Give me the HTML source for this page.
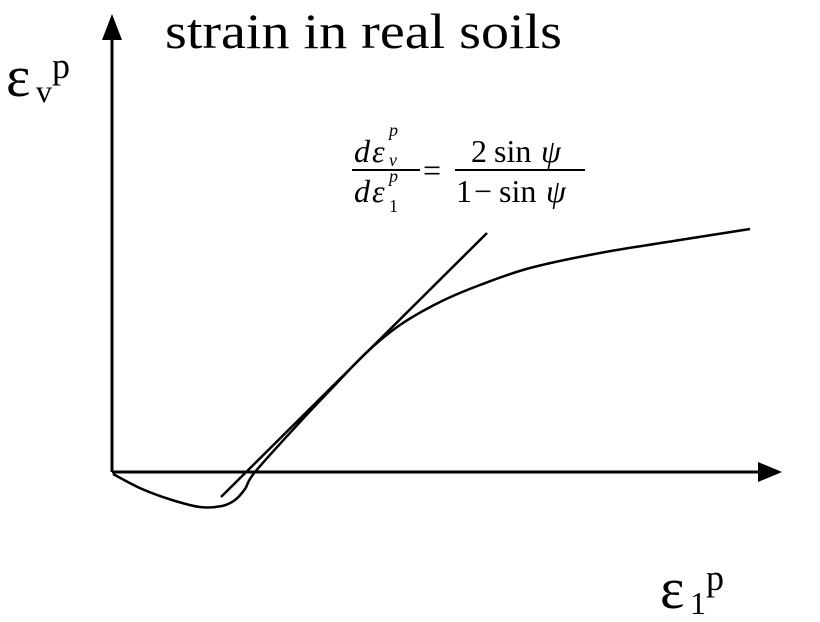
<!DOCTYPE html>
<html><head><meta charset="utf-8"><style>
body{margin:0;background:#fff;}
svg{display:block;font-family:"Liberation Serif",serif;}
</style></head><body>
<svg width="820" height="622" viewBox="0 0 820 622">
<text x="165" y="48" font-size="50" textLength="397" lengthAdjust="spacingAndGlyphs">strain in real soils</text>
<g><text x="6" y="96" font-size="58">ε</text><text x="36" y="102" font-size="32">v</text><text x="52" y="78" font-size="36">p</text></g>
<g><text x="660" y="608" font-size="58">ε</text><text x="690" y="614" font-size="32">1</text><text x="706" y="590" font-size="36">p</text></g>
<line x1="112" y1="472" x2="112" y2="38" stroke="#000" stroke-width="3"/>
<polygon points="112,14 102,40 122,40" fill="#000"/>
<line x1="112" y1="472" x2="760" y2="472" stroke="#000" stroke-width="3"/>
<polygon points="782,472 758,462 758,482" fill="#000"/>
<g font-style="italic" font-size="32">
<text x="354" y="162">d</text><text x="372" y="162">ε</text><text x="389" y="166" font-size="18">v</text><text x="389" y="136" font-size="18">p</text>
<line x1="352" y1="170" x2="420" y2="170" stroke="#000" stroke-width="2"/>
<text x="354" y="202">d</text><text x="372" y="202">ε</text><text x="389" y="212" font-size="18" font-style="normal">1</text><text x="389" y="182" font-size="18">p</text>
<text x="423" y="181" font-style="normal">=</text>
<text x="471" y="162" font-style="normal">2</text><text x="494" y="162" font-style="normal">sin</text><text x="541" y="162">ψ</text>
<line x1="455" y1="170" x2="585" y2="170" stroke="#000" stroke-width="2"/>
<text x="456" y="202" font-style="normal">1</text><text x="474" y="202" font-style="normal">−</text><text x="499" y="202" font-style="normal">sin</text><text x="546" y="202">ψ</text>
</g>
<g id="plot"></g>
</svg>
<script>
const curveX=[1,30,60,88,110,123,133,143,188,223,255,288,328,368,418,488,568,638];
const curveY=[-2,-17,-28,-35,-34,-28,-17,0,50,87,120,147,170,187,204,219,232,243];
const tangentX=[109,375];
const tangentY=[-25,239];
function sx(v){return 112+v;}
function sy(v){return 472-v;}
const g=document.getElementById('plot');
const ns='http://www.w3.org/2000/svg';
const px=curveX.map(sx),py=curveY.map(sy);
let d='M'+px[0]+','+py[0];
for(let i=0;i<px.length-1;i++){
 const a=Math.max(i-1,0),b=Math.min(i+2,px.length-1);
 d+=' C'+(px[i]+(px[i+1]-px[a])/6)+','+(py[i]+(py[i+1]-py[a])/6)+' '+(px[i+1]-(px[b]-px[i])/6)+','+(py[i+1]-(py[b]-py[i])/6)+' '+px[i+1]+','+py[i+1];
}
const c=document.createElementNS(ns,'path');
c.setAttribute('d',d);c.setAttribute('fill','none');c.setAttribute('stroke','#000');c.setAttribute('stroke-width','2.5');


g.appendChild(c);
const t=document.createElementNS(ns,'line');
t.setAttribute('x1',sx(tangentX[0]));t.setAttribute('y1',sy(tangentY[0]));
t.setAttribute('x2',sx(tangentX[1]));t.setAttribute('y2',sy(tangentY[1]));
t.setAttribute('stroke','#000');t.setAttribute('stroke-width','2.5');


g.appendChild(t);
</script>
</body></html>
